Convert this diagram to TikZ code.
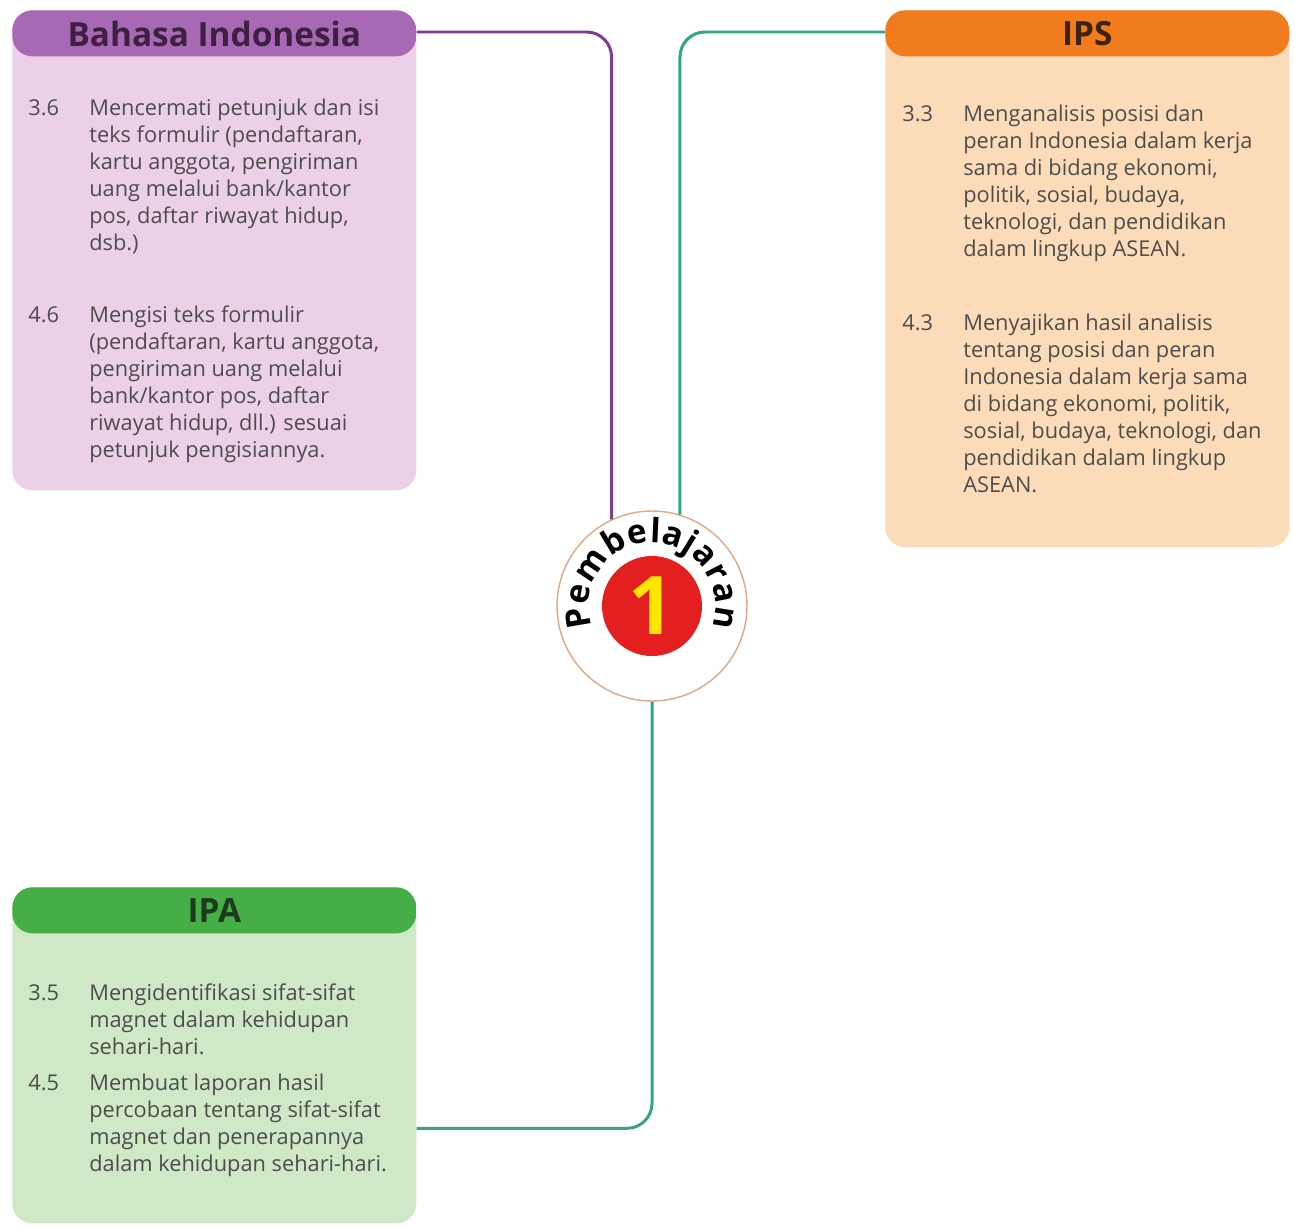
\documentclass[tikz,border=0pt]{standalone}
\usepackage{fontspec}
\setmainfont{Open Sans}
\usetikzlibrary{positioning,decorations.text}
\definecolor{binhead}{HTML}{A768B4}
\definecolor{binbody}{HTML}{EBD0E7}
\definecolor{binhtext}{HTML}{3E2043}
\definecolor{ipshead}{HTML}{F07C1E}
\definecolor{ipsbody}{HTML}{FCDCB8}
\definecolor{ipshtext}{HTML}{3D2410}
\definecolor{ipahead}{HTML}{45AE47}
\definecolor{ipabody}{HTML}{CFE8C5}
\definecolor{ipahtext}{HTML}{1F3B1F}
\definecolor{txtgray}{HTML}{4D4D4D}
\definecolor{binline}{HTML}{7E3D8E}
\definecolor{ipsline}{HTML}{2FA983}
\definecolor{ipaline}{HTML}{3AA57C}
\definecolor{ringline}{HTML}{E0A884}
\definecolor{redone}{HTML}{E3201F}
\definecolor{yellowone}{HTML}{FFE600}
\tikzset{
  headcol/.store in=\headcol, headcol=black,
  subjbox/.style={rectangle, rounded corners=0.4cm, anchor=north west,
    inner sep=0pt, minimum width=8.08cm,
    path picture={\fill[\headcol] (path picture bounding box.north west) rectangle
      ([yshift=-0.92cm]path picture bounding box.north east);}},
  headtext/.style={font=\bfseries\fontsize{19}{19}\selectfont, inner sep=0pt},
  itemtext/.style={anchor=north west, inner sep=0pt, text=txtgray,
    font=\fontsize{12.4}{15.4}\selectfont},
  link/.style={line width=1.7pt, rounded corners=0.5cm},
}
\begin{document}
\begin{tikzpicture}[x=0.02cm, y=0.02cm]
  \useasboundingbox[fill=white] (0,0) rectangle (1295,-1227);

  % subject boxes
  \node[subjbox, fill=binbody, headcol=binhead, minimum height=9.6cm] (bin) at (12,-10) {};
  \node[subjbox, fill=ipsbody, headcol=ipshead, minimum height=10.74cm] (ips) at (885,-10) {};
  \node[subjbox, fill=ipabody, headcol=ipahead, minimum height=6.72cm] (ipa) at (12,-887) {};

  \node[headtext, text=binhtext] (binhd) at ([yshift=-0.47cm]bin.north) {Bahasa Indonesia};
  \node[headtext, text=ipshtext] (ipshd) at ([yshift=-0.47cm]ips.north) {IPS};
  \node[headtext, text=ipahtext] (ipahd) at ([yshift=-0.47cm]ipa.north) {IPA};

  % competencies
  \node[itemtext] (bin36) at (28,-96) {\begin{tabular}{@{}p{1.22cm}@{}l@{}}
    3.6 & Mencermati petunjuk dan isi\\
        & teks formulir (pendaftaran,\\
        & kartu anggota, pengiriman\\
        & uang melalui bank/kantor\\
        & pos, daftar riwayat hidup,\\
        & dsb.)\end{tabular}};
  \node[itemtext] (bin46) at (28,-303) {\begin{tabular}{@{}p{1.22cm}@{}l@{}}
    4.6 & Mengisi teks formulir\\
        & (pendaftaran, kartu anggota,\\
        & pengiriman uang melalui\\
        & bank/kantor pos, daftar\\
        & riwayat hidup, dll.) sesuai\\
        & petunjuk pengisiannya.\end{tabular}};
  \node[itemtext] (ips33) at (902,-102) {\begin{tabular}{@{}p{1.22cm}@{}l@{}}
    3.3 & Menganalisis posisi dan\\
        & peran Indonesia dalam kerja\\
        & sama di bidang ekonomi,\\
        & politik, sosial, budaya,\\
        & teknologi, dan pendidikan\\
        & dalam lingkup ASEAN.\end{tabular}};
  \node[itemtext] (ips43) at (902,-311) {\begin{tabular}{@{}p{1.22cm}@{}l@{}}
    4.3 & Menyajikan hasil analisis\\
        & tentang posisi dan peran\\
        & Indonesia dalam kerja sama\\
        & di bidang ekonomi, politik,\\
        & sosial, budaya, teknologi, dan\\
        & pendidikan dalam lingkup\\
        & ASEAN.\end{tabular}};
  \node[itemtext] (ipa35) at (28,-981) {\begin{tabular}{@{}p{1.22cm}@{}l@{}}
    3.5 & Mengidentifikasi sifat-sifat\\
        & magnet dalam kehidupan\\
        & sehari-hari.\end{tabular}};
  \node[itemtext] (ipa45) at (28,-1071) {\begin{tabular}{@{}p{1.22cm}@{}l@{}}
    4.5 & Membuat laporan hasil\\
        & percobaan tentang sifat-sifat\\
        & magnet dan penerapannya\\
        & dalam kehidupan sehari-hari.\end{tabular}};

  % centre badge
  \node[circle, draw=ringline, line width=0.8pt, fill=white, minimum size=3.8cm,
        inner sep=0pt] (ring) at (652,-606) {};

  % links
  \draw[link, binline] ([yshift=-0.44cm]bin.north east) -| (ring.115);
  \draw[link, ipsline] ([yshift=-0.44cm]ips.north west) -| (ring.73);
  \draw[link, ipaline] (ring.south) |- ([yshift=-1.46cm]ipa.east);

  \node[circle, fill=redone, minimum size=2cm, inner sep=0pt, text=yellowone,
        font=\bfseries\fontsize{46}{46}\selectfont] (one) at (ring.center) {1};
  \path[decorate, decoration={text along path, text format delimiters={|}{|},
        text={|\bfseries\fontsize{19}{19}\selectfont|Pembelajaran},
        text align={fit to path}}]
    (ring.center) ++(199:1.27cm) arc[start angle=199, end angle=-19, radius=1.27cm];
\end{tikzpicture}
\end{document}
